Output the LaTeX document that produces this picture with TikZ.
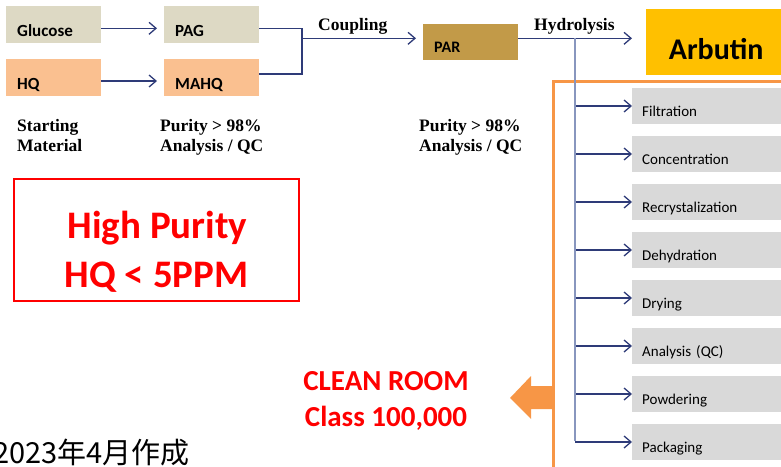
\documentclass[tikz,border=0pt]{standalone}
\usepackage{fontspec}
\setmainfont{Carlito}
\newfontfamily\serifbf{Liberation Serif}
\newfontfamily\jpfont{Noto Sans CJK JP}
\usetikzlibrary{arrows.meta}
\definecolor{navy}{HTML}{2E3B78}
\definecolor{vline}{HTML}{8896BE}
\definecolor{tan}{HTML}{DDD9C4}
\definecolor{peach}{HTML}{FAC090}
\definecolor{parc}{HTML}{C29A48}
\definecolor{arbc}{HTML}{FFC000}
\definecolor{stepgray}{HTML}{D9D9D9}
\definecolor{orangeb}{HTML}{F79646}
\definecolor{redc}{HTML}{FF0000}
\tikzset{
  x=1pt, y=-1pt,
  conn/.style={draw=navy, line width=1.2pt},
  arr/.style={conn, -{Straight Barb[length=7pt,width=12pt,line width=1.3pt]}},
  inbox/.style={anchor=north west, inner xsep=11pt, inner ysep=0pt, minimum width=95pt, minimum height=37pt,
     text width=73pt, align=left, text height=24pt, text depth=0pt, font=\fontsize{17}{20}\selectfont\bfseries},
  stepbox/.style={fill=stepgray, anchor=north west, inner xsep=10pt, inner ysep=0pt, minimum width=170pt, minimum height=36pt,
     text width=150pt, align=left, text height=21pt, text depth=0pt, font=\fontsize{15}{17}\selectfont},
  sertxt/.style={anchor=base west, inner sep=0pt, font=\serifbf\fontsize{17.5}{20}\selectfont\bfseries},
  redtxt/.style={anchor=base, inner sep=0pt, text=redc, font=\bfseries},
}
\begin{document}
\begin{tikzpicture}
\useasboundingbox (0,0) rectangle (781,466);
% top row boxes
\node[inbox, fill=tan] (glu) at (6,6) {Glucose};
\node[inbox, fill=peach] (hq) at (6,59) {HQ};
\node[inbox, fill=tan] (pag) at (164,6) {PAG};
\node[inbox, fill=peach] (mahq) at (164,59) {MAHQ};
\node[inbox, fill=parc, minimum height=36pt, text height=21pt, font=\fontsize{16}{18}\selectfont\bfseries] (par) at (423,24) {PAR};
\node[fill=arbc, anchor=north west, minimum width=140pt, minimum height=66pt, inner sep=0pt,
      text height=34pt, text depth=0pt, font=\fontsize{30}{32}\selectfont\bfseries] (arb) at (646,9) {Arbutin};
% connectors
\draw[arr] (glu.east |- 0,28.3) -- (157,28.3);
\draw[arr] (hq.east |- 0,81) -- (157,81);
\coordinate (j1) at (302,38.3);
\draw[conn] (pag.east |- 0,28.3) -- (302,28.3) -- (302,74) -- (mahq.east |- 0,74);
\draw[arr] (j1) -- (416,38.3);
\draw[arr] (par.east |- 0,38.3) -- (632,38.3);
\node[sertxt] (coup) at (318,30.7) {Coupling};
\node[sertxt] (hyd) at (534,30.7) {Hydrolysis};
% labels
\node[sertxt] (s1) at (17,131.5) {Starting};
\node[sertxt] (s2) at (17,151.5) {Material};
\node[sertxt] (p1) at (160,131.5) {Purity {>} 98\%};
\node[sertxt] (p2) at (160,151.5) {Analysis / QC};
\node[sertxt] (p3) at (419,131.5) {Purity {>} 98\%};
\node[sertxt] (p4) at (419,151.5) {Analysis / QC};
% red box
\node[draw=redc, line width=2.5pt, minimum width=285pt, minimum height=122pt, inner sep=0pt] (purity) at (156.5,240) {};
\node[redtxt, font=\fontsize{39}{42}\selectfont\bfseries] (hp1) at (157.5,238.3) {High Purity};
\node[redtxt, font=\fontsize{39}{42}\selectfont\bfseries] (hp2) at (156.5,287.3) {HQ < 5PPM};
% clean room border
\draw[orangeb, line width=3pt] (800,81) -- (553,81) -- (553,480);
\fill[orangeb] (510,398) -- (531,376) -- (531,386) -- (553,386) -- (553,409) -- (531,409) -- (531,419) -- cycle;
\node[redtxt, font=\fontsize{29}{32}\selectfont\bfseries] (cr1) at (386,390) {CLEAN ROOM};
\node[redtxt, font=\fontsize{29}{32}\selectfont\bfseries] (cr2) at (386,426.5) {Class 100,000};
% steps
\coordinate (vtop) at (575,38.3);
\foreach \n/\t [count=\i from 0] in {filt/Filtration, conc/Concentration, recr/Recrystalization, dehy/Dehydration,
    dry/Drying, anal/Analysis (QC), powd/Powdering, pack/Packaging}{
  \node[stepbox] (\n) at (632,88+48*\i) {\t};
  \draw[arr] (575,106+48*\i) -- (\n.west |- 0,106+48*\i);
}
\draw[vline, line width=1.2pt] (vtop) -- (575,440.6);
% date
\node[anchor=base east, inner sep=0pt, font=\jpfont\fontsize{29}{32}\selectfont] (date) at (190,463.3) {2023年4月作成};
\end{tikzpicture}
\end{document}
